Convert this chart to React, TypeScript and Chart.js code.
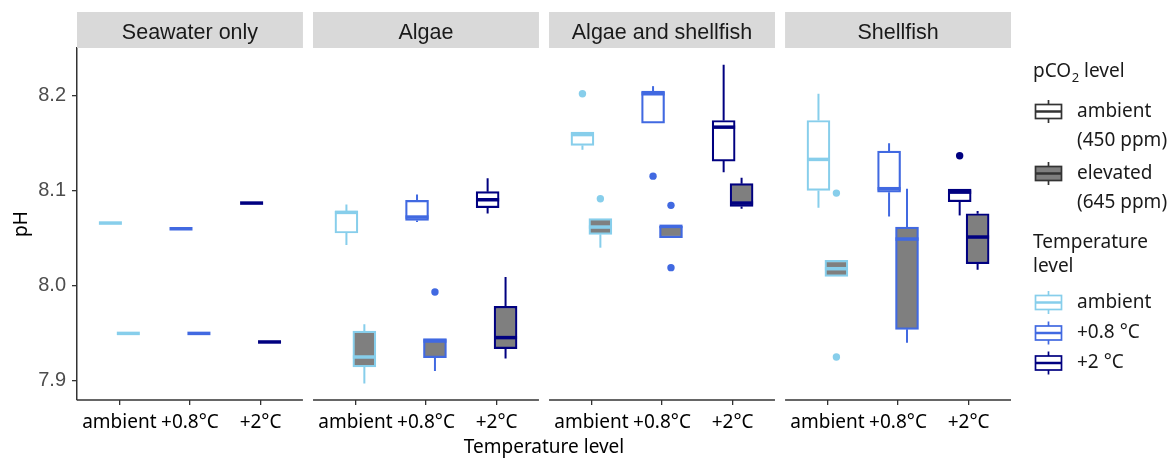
import React, { useEffect, useRef } from 'react';
import { Chart, registerables } from 'chart.js';

Chart.register(...registerables);

// ---------- data ----------
const panels = ['Seawater only', 'Algae', 'Algae and shellfish', 'Shellfish'];
const temperatureLevels = ['ambient', '+0.8°C', '+2°C'];
const temperatureLegendLabels = ['ambient', '+0.8 °C', '+2 °C'];
const temperatureColors = ['#87CEEB', '#4169E1', '#000080'];
const pco2LegendLabels = [['ambient', '(450 ppm)'], ['elevated', '(645 ppm)']];
const pco2Fills = ['#FFFFFF', '#7F7F7F'];
const yTickValues = [7.9, 8.0, 8.1, 8.2];

// one entry per panel x temperature level (panel-major order)
// ambient pCO2 (450 ppm)
const ambientMin = [8.066, 8.060, 8.087, 8.043, 8.067, 8.076, 8.143, 8.171, 8.1195, 8.082, 8.073, 8.074];
const ambientQ1 = [8.066, 8.060, 8.087, 8.0555, 8.0688, 8.0821, 8.1476, 8.171, 8.1311, 8.1003, 8.0985, 8.0884];
const ambientMed = [8.066, 8.060, 8.087, 8.0772, 8.0723, 8.0905, 8.159, 8.2019, 8.1668, 8.1329, 8.1021, 8.0985];
const ambientQ3 = [8.066, 8.060, 8.087, 8.0786, 8.0898, 8.099, 8.1616, 8.2046, 8.1738, 8.1738, 8.1416, 8.1017];
const ambientMax = [8.066, 8.060, 8.087, 8.0856, 8.096, 8.1132, 8.1616, 8.2099, 8.2324, 8.2019, 8.150, 8.1017];
// elevated pCO2 (645 ppm)
const elevatedMin = [7.950, 7.950, 7.941, 7.8973, 7.9105, 7.9235, 8.0401, 8.0506, 8.081, 8.010, 7.9403, 8.017];
const elevatedQ1 = [7.950, 7.950, 7.941, 7.9147, 7.9246, 7.934, 8.0541, 8.0506, 8.0835, 8.010, 7.9543, 8.0233];
const elevatedMed = [7.950, 7.950, 7.941, 7.9252, 7.942, 7.9456, 8.0618, 8.0625, 8.087, 8.018, 8.0492, 8.0513];
const elevatedQ3 = [7.950, 7.950, 7.941, 7.9525, 7.9445, 7.9785, 8.0706, 8.0628, 8.1074, 8.0268, 8.0618, 8.0758];
const elevatedMax = [7.950, 7.950, 7.941, 7.9596, 7.9445, 8.0092, 8.0706, 8.0628, 8.1137, 8.0268, 8.1021, 8.0786];

// outliers
const outlierPanel = [1, 2, 2, 2, 2, 2, 3, 3, 3];
const outlierTemp = [1, 0, 0, 1, 1, 1, 0, 0, 2];
const outlierGroup = [1, 0, 1, 0, 1, 1, 1, 1, 0];
const outlierValue = [7.9935, 8.2019, 8.0916, 8.1153, 8.0846, 8.0191, 8.0975, 7.9252, 8.1368];

// ---------- layout helpers ----------
const PANEL_STEP = 3.343;
const DODGE = 0.127;
const BOX_PX = 23;
const X_MIN = 0.4;
const X_MAX = 3 * PANEL_STEP + 3.6;

const groups = [
  { min: ambientMin, q1: ambientQ1, med: ambientMed, q3: ambientQ3, max: ambientMax },
  { min: elevatedMin, q1: elevatedQ1, med: elevatedMed, q3: elevatedQ3, max: elevatedMax },
];

const xPos = (i: number, g: number) =>
  Math.floor(i / 3) * PANEL_STEP + (i % 3) + 1 + (g === 0 ? -DODGE : DODGE);

const tickPositions = panels.flatMap((_, p) => temperatureLevels.map((_, t) => p * PANEL_STEP + t + 1));

const SANS = '"Noto Sans", sans-serif';
const ARIAL = '"Liberation Sans", Arial, sans-serif';

function drawGlyph(ctx: CanvasRenderingContext2D, x0: number, yc: number, stroke: string, fill: string) {
  const w = 26;
  const cx = x0 + w / 2;
  ctx.save();
  ctx.strokeStyle = stroke;
  ctx.lineWidth = 1.7;
  ctx.beginPath();
  ctx.moveTo(cx, yc - 11.5);
  ctx.lineTo(cx, yc - 7);
  ctx.moveTo(cx, yc + 7);
  ctx.lineTo(cx, yc + 11.5);
  ctx.stroke();
  ctx.fillStyle = fill;
  ctx.fillRect(x0, yc - 7, w, 14);
  ctx.strokeRect(x0, yc - 7, w, 14);
  ctx.lineWidth = 2.5;
  ctx.beginPath();
  ctx.moveTo(x0, yc);
  ctx.lineTo(x0 + w, yc);
  ctx.stroke();
  ctx.restore();
}

const boxplotPlugin = {
  id: 'boxplotParts',
  beforeDatasetsDraw(chart: any) {
    const { ctx, scales } = chart;
    const x = scales.x;
    const y = scales.y;
    ctx.save();
    ctx.lineWidth = 2;
    groups.forEach((g, gi) => {
      g.q1.forEach((_, i) => {
        const cx = x.getPixelForValue(xPos(i, gi));
        ctx.strokeStyle = temperatureColors[i % 3];
        ctx.beginPath();
        if (g.max[i] > g.q3[i]) {
          ctx.moveTo(cx, y.getPixelForValue(g.q3[i]));
          ctx.lineTo(cx, y.getPixelForValue(g.max[i]));
        }
        if (g.min[i] < g.q1[i]) {
          ctx.moveTo(cx, y.getPixelForValue(g.q1[i]));
          ctx.lineTo(cx, y.getPixelForValue(g.min[i]));
        }
        ctx.stroke();
      });
    });
    ctx.restore();
  },
  afterDatasetsDraw(chart: any) {
    const { ctx, scales } = chart;
    const x = scales.x;
    const y = scales.y;
    ctx.save();
    ctx.lineWidth = 3.5;
    groups.forEach((g, gi) => {
      g.med.forEach((m, i) => {
        const cx = x.getPixelForValue(xPos(i, gi));
        const py = y.getPixelForValue(m);
        ctx.strokeStyle = temperatureColors[i % 3];
        ctx.beginPath();
        ctx.moveTo(cx - BOX_PX / 2, py);
        ctx.lineTo(cx + BOX_PX / 2, py);
        ctx.stroke();
      });
    });
    ctx.restore();
  },
  afterDraw(chart: any) {
    const { ctx, scales, chartArea } = chart;
    const x = scales.x;
    ctx.save();
    panels.forEach((name, p) => {
      const l = x.getPixelForValue(p * PANEL_STEP + 0.4);
      const r = x.getPixelForValue(p * PANEL_STEP + 3.6);
      // panel x axis line
      ctx.strokeStyle = '#333333';
      ctx.lineWidth = 1.5;
      ctx.beginPath();
      ctx.moveTo(l, chartArea.bottom);
      ctx.lineTo(r, chartArea.bottom);
      ctx.stroke();
      // strip
      ctx.fillStyle = '#D9D9D9';
      ctx.fillRect(l, 12, r - l, chartArea.top - 12);
      ctx.fillStyle = '#1A1A1A';
      ctx.font = `21.5px ${ARIAL}`;
      ctx.textAlign = 'center';
      ctx.textBaseline = 'alphabetic';
      ctx.fillText(name, (l + r) / 2, 38.5);
    });

    // legend
    ctx.textAlign = 'left';
    ctx.textBaseline = 'middle';
    ctx.fillStyle = '#1A1A1A';
    ctx.font = `19px ${SANS}`;
    let tx = 1033;
    ctx.fillText('pCO', tx, 72);
    tx += ctx.measureText('pCO').width;
    ctx.font = `13px ${SANS}`;
    ctx.fillText('2', tx + 0.5, 78);
    tx += ctx.measureText('2').width + 0.5;
    ctx.font = `19px ${SANS}`;
    ctx.fillText(' level', tx, 72);

    const pcoY = [111.5, 173.5];
    pco2LegendLabels.forEach((lines, k) => {
      drawGlyph(ctx, 1035.5, pcoY[k], '#333333', pco2Fills[k]);
      ctx.fillStyle = '#1A1A1A';
      ctx.font = `19px ${SANS}`;
      ctx.fillText(lines[0], 1077, pcoY[k]);
      ctx.fillText(lines[1], 1077, pcoY[k] + 29.5);
    });

    ctx.fillText('Temperature', 1033, 243);
    ctx.fillText('level', 1033, 267);
    const tY = [302.5, 333, 363];
    temperatureLegendLabels.forEach((lab, k) => {
      drawGlyph(ctx, 1035.5, tY[k], temperatureColors[k], '#FFFFFF');
      ctx.fillStyle = '#1A1A1A';
      ctx.font = `19px ${SANS}`;
      ctx.fillText(lab, 1077, tY[k]);
    });
    ctx.restore();
  },
};

export default function App() {
  const canvasRef = useRef<HTMLCanvasElement | null>(null);

  useEffect(() => {
    const canvas = canvasRef.current;
    if (!canvas) return;

    const boxDatasets = groups.map((g, gi) => ({
      type: 'bar' as const,
      label: pco2LegendLabels[gi][0],
      data: g.q1.map((_, i) => ({ x: xPos(i, gi), y: [g.q1[i], g.q3[i]] })),
      backgroundColor: pco2Fills[gi],
      borderColor: g.q1.map((_, i) => temperatureColors[i % 3]),
      borderWidth: 2.2,
      borderSkipped: false,
      barThickness: BOX_PX,
      grouped: false,
      order: 2 - gi,
    }));

    const outlierDataset = {
      type: 'scatter' as const,
      label: 'outliers',
      data: outlierValue.map((v, k) => ({
        x: xPos(outlierPanel[k] * 3 + outlierTemp[k], outlierGroup[k]),
        y: v,
      })),
      pointBackgroundColor: outlierTemp.map((t) => temperatureColors[t]),
      pointBorderColor: outlierTemp.map((t) => temperatureColors[t]),
      pointBorderWidth: 0,
      pointRadius: 3.7,
      order: 0,
    };

    const chart = new Chart(canvas, {
      type: 'bar',
      data: { datasets: [...boxDatasets, outlierDataset] as any },
      options: {
        responsive: false,
        animation: false,
        events: [],
        layout: { padding: { left: 0, top: 48, right: 160, bottom: 0 } },
        plugins: {
          legend: { display: false },
          tooltip: { enabled: false },
          title: { display: false },
        },
        scales: {
          x: {
            type: 'linear',
            min: X_MIN,
            max: X_MAX,
            offset: false,
            afterBuildTicks: (scale: any) => {
              scale.ticks = tickPositions.map((v) => ({ value: v }));
            },
            afterFit: (scale: any) => {
              scale.height = 61;
            },
            ticks: {
              autoSkip: false,
              maxRotation: 0,
              minRotation: 0,
              padding: 6,
              color: '#000000',
              font: { family: SANS, size: 19 },
              callback: (value: any) => {
                const idx = tickPositions.findIndex((p) => Math.abs(p - Number(value)) < 0.01);
                return idx >= 0 ? temperatureLevels[idx % 3] : '';
              },
            },
            grid: {
              display: true,
              offset: false,
              drawOnChartArea: false,
              drawTicks: true,
              tickLength: 5,
              color: '#333333',
              lineWidth: 1.3,
            },
            border: { display: false },
            title: {
              display: true,
              text: 'Temperature level',
              color: '#000000',
              font: { family: SANS, size: 19 },
              padding: { top: 0, bottom: 2 },
            },
          },
          y: {
            type: 'linear',
            min: 7.88,
            max: 8.25,
            afterBuildTicks: (scale: any) => {
              scale.ticks = yTickValues.map((v) => ({ value: v }));
            },
            afterFit: (scale: any) => {
              scale.width = 77;
            },
            ticks: {
              padding: 6,
              color: '#4D4D4D',
              font: { family: ARIAL, size: 20 },
              callback: (value: any) => Number(value).toFixed(1),
            },
            grid: {
              display: true,
              drawOnChartArea: false,
              drawTicks: true,
              tickLength: 5,
              color: '#333333',
              lineWidth: 1.3,
            },
            border: { display: true, color: '#333333', width: 1.5 },
            title: {
              display: true,
              text: 'pH',
              color: '#000000',
              font: { family: SANS, size: 19 },
              padding: { top: 10, bottom: 0 },
            },
          },
        },
      },
      plugins: [boxplotPlugin],
    });

    return () => {
      chart.destroy();
    };
  }, []);

  return (
    <div style={{ position: 'absolute', left: 0, top: 0, width: 1171, height: 461, background: '#FFFFFF' }}>
      <canvas ref={canvasRef} width={1171} height={461} />
    </div>
  );
}
